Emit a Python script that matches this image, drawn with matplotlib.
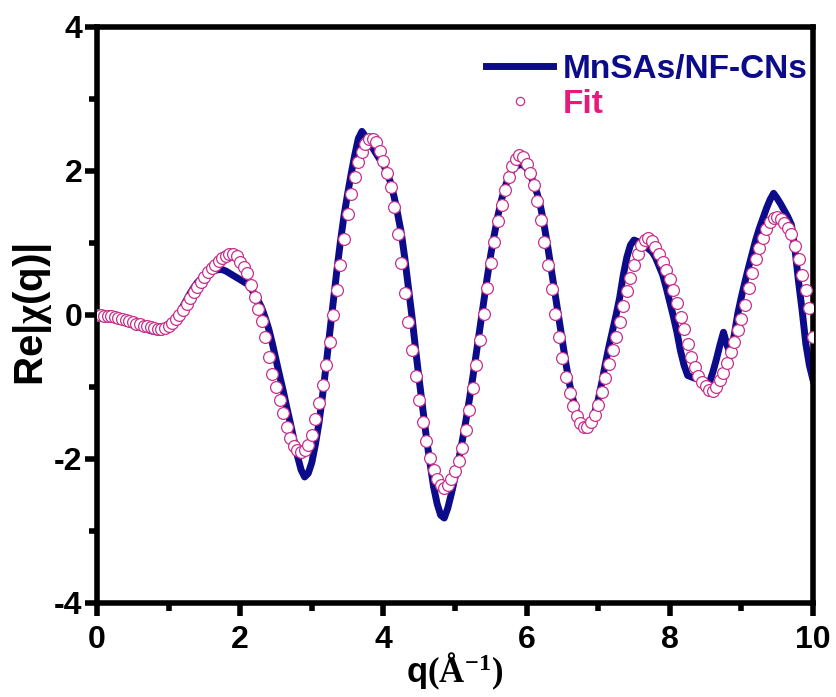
import numpy as np
import matplotlib.pyplot as plt

# Data (q grid step 0.05)
q = np.round(np.arange(0, 10.001, 0.05), 2)

data = [
    0.00, 0.00, -0.01, -0.02, -0.03, -0.04, -0.05, -0.07, -0.08, -0.10,
    -0.12, -0.14, -0.16, -0.18, -0.20, -0.22, -0.23, -0.24, -0.24, -0.22,
    -0.18, -0.12, -0.05, 0.03, 0.12, 0.21, 0.30, 0.38, 0.45, 0.50,
    0.54, 0.57, 0.60, 0.62, 0.63, 0.63, 0.61, 0.58, 0.55, 0.52,
    0.49, 0.46, 0.43, 0.37, 0.29, 0.20, 0.10, -0.04, -0.20, -0.40,
    -0.62, -0.84, -1.05, -1.28, -1.50, -1.73, -1.96, -2.15, -2.25, -2.20,
    -2.05, -1.80, -1.50, -1.12, -0.70, -0.25, 0.18, 0.62, 1.02, 1.38,
    1.68, 1.96, 2.22, 2.45, 2.55, 2.48, 2.40, 2.32, 2.24, 2.16,
    2.09, 1.98, 1.84, 1.64, 1.40, 1.14, 0.78, 0.38, -0.03, -0.48,
    -0.90, -1.30, -1.70, -2.05, -2.38, -2.62, -2.78, -2.82, -2.68, -2.48,
    -2.26, -2.02, -1.76, -1.48, -1.18, -0.86, -0.52, -0.17, 0.18, 0.52,
    0.84, 1.12, 1.38, 1.60, 1.78, 1.92, 2.01, 2.06, 2.09, 2.08,
    2.04, 1.95, 1.83, 1.68, 1.48, 1.22, 0.92, 0.60, 0.28, -0.04,
    -0.36, -0.68, -0.96, -1.18, -1.35, -1.46, -1.52, -1.54, -1.48, -1.36,
    -1.18, -0.94, -0.68, -0.44, -0.22, 0.00, 0.24, 0.55, 0.80, 0.97,
    1.04, 1.02, 0.98, 0.95, 0.92, 0.88, 0.80, 0.68, 0.56, 0.38,
    0.18, -0.02, -0.24, -0.50, -0.70, -0.84, -0.86, -0.88, -0.89, -0.91,
    -0.93, -0.95, -0.80, -0.62, -0.42, -0.24, -0.42, -0.55, -0.28, 0.02,
    0.25, 0.46, 0.66, 0.85, 1.04, 1.20, 1.34, 1.48, 1.60, 1.69,
    1.62, 1.54, 1.45, 1.36, 1.25, 0.90, 0.45, 0.05, -0.40, -0.70,
    -0.90,
]

fit = [
    0.00, 0.00, -0.01, -0.01, -0.02, -0.03, -0.04, -0.06, -0.07, -0.09,
    -0.10, -0.12, -0.13, -0.15, -0.16, -0.17, -0.18, -0.19, -0.19, -0.18,
    -0.15, -0.11, -0.06, 0.00, 0.07, 0.15, 0.24, 0.32, 0.39, 0.46,
    0.53, 0.59, 0.65, 0.70, 0.75, 0.79, 0.82, 0.84, 0.84, 0.82,
    0.74, 0.66, 0.58, 0.42, 0.25, 0.08, -0.08, -0.30, -0.58, -0.82,
    -1.00, -1.18, -1.36, -1.55, -1.71, -1.82, -1.88, -1.90, -1.87, -1.80,
    -1.67, -1.45, -1.22, -0.97, -0.69, -0.37, 0.00, 0.35, 0.70, 1.05,
    1.40, 1.68, 1.92, 2.12, 2.27, 2.38, 2.44, 2.45, 2.40, 2.28,
    2.14, 1.97, 1.78, 1.50, 1.12, 0.72, 0.30, -0.10, -0.48, -0.85,
    -1.18, -1.48, -1.75, -1.98, -2.15, -2.28, -2.36, -2.40, -2.36, -2.28,
    -2.17, -2.03, -1.85, -1.60, -1.32, -1.02, -0.70, -0.35, 0.02, 0.38,
    0.72, 1.02, 1.30, 1.53, 1.74, 1.92, 2.07, 2.17, 2.22, 2.19,
    2.10, 1.97, 1.80, 1.58, 1.32, 1.02, 0.70, 0.36, 0.02, -0.30,
    -0.60, -0.86, -1.08, -1.27, -1.41, -1.50, -1.55, -1.55, -1.49, -1.39,
    -1.25, -1.07, -0.88, -0.68, -0.48, -0.30, -0.10, 0.12, 0.33, 0.52,
    0.70, 0.85, 0.97, 1.04, 1.07, 1.03, 0.95, 0.84, 0.73, 0.63,
    0.50, 0.35, 0.17, -0.03, -0.20, -0.40, -0.58, -0.72, -0.85, -0.93,
    -0.99, -1.04, -1.06, -1.00, -0.91, -0.80, -0.67, -0.52, -0.37, -0.21,
    -0.05, 0.14, 0.38, 0.58, 0.78, 0.93, 1.07, 1.20, 1.29, 1.34,
    1.36, 1.33, 1.28, 1.21, 1.12, 0.96, 0.78, 0.56, 0.34, 0.10,
    -0.30,
]

plt.rcParams['font.family'] = 'Liberation Sans'
plt.rcParams['font.weight'] = 'bold'
plt.rcParams['axes.labelweight'] = 'bold'
plt.rcParams['axes.unicode_minus'] = False
plt.rcParams['mathtext.fontset'] = 'custom'
plt.rcParams['mathtext.rm'] = 'Liberation Serif'
plt.rcParams['mathtext.bf'] = 'Liberation Serif:bold'
plt.rcParams['mathtext.it'] = 'Liberation Serif:italic'

fig = plt.figure(figsize=(8.37, 6.97), dpi=100)
ax = fig.add_axes([0.1159, 0.1349, 0.8554, 0.8264])

ax.plot(q, data, color='#0c0c8a', lw=5, label='MnSAs/NF-CNs', zorder=2)
ax.plot(q, fit, ls='none', marker='o', ms=8.5, mfc='white', mec='#c8308c',
        mew=0.9, label='Fit', zorder=3)

ax.set_xlim(0, 10)
ax.set_ylim(-4, 4)
ax.set_xticks(np.arange(0, 11, 2))
ax.set_xticks(np.arange(1, 10, 2), minor=True)
ax.set_yticks(np.arange(-4, 5, 2))
ax.set_yticks(np.arange(-3, 4, 2), minor=True)

for s in ax.spines.values():
    s.set_linewidth(4)
ax.tick_params(which='major', direction='out', length=9, width=4,
               labelsize=23, top=False, right=False)
ax.tick_params(which='minor', direction='out', length=5.5, width=4,
               top=False, right=False)
ax.tick_params(axis='y', pad=1.5)
ax.tick_params(axis='x', pad=7)

ax.set_ylabel(r'Re|$\mathrm{\chi}$(q)|', fontsize=29, labelpad=0)
ax.set_xlabel(r'q$\mathbf{(\AA^{-1})}$', fontsize=25, labelpad=-3)

leg = ax.legend(loc='upper right', bbox_to_anchor=(1.035, 1.005),
                frameon=False, fontsize=24,
                handlelength=2.0, handletextpad=0.3, labelspacing=0.12,
                markerscale=0.7, borderaxespad=0.1, borderpad=0.8)
leg.get_texts()[0].set_color('#0c0c8a')
leg.get_texts()[1].set_color('#e8197c')

fig.savefig('out.png', dpi=100)
